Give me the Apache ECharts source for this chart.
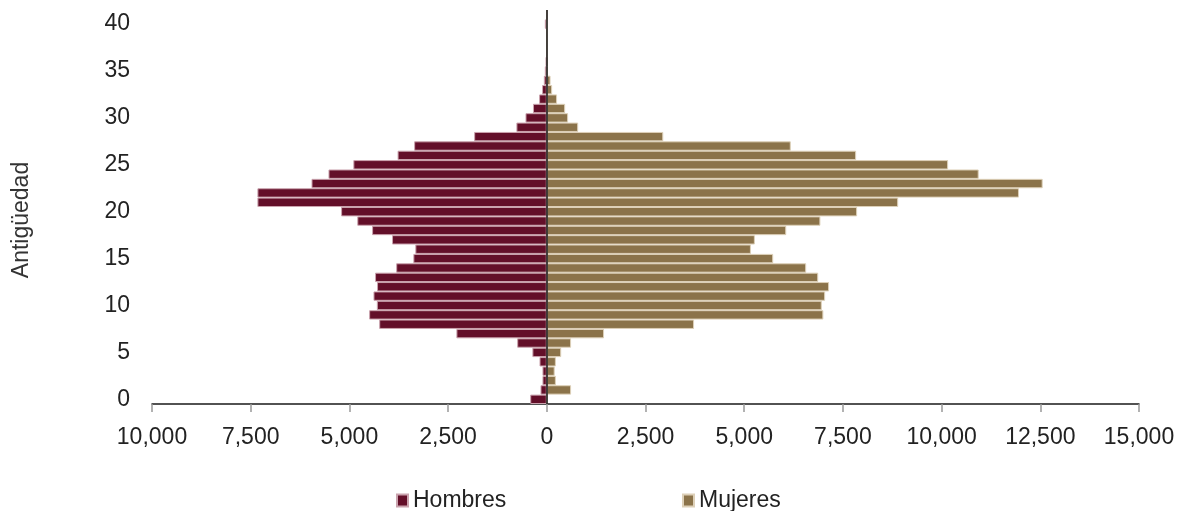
<!DOCTYPE html>
<html>
<head>
<meta charset="utf-8">
<script src="https://cdn.jsdelivr.net/npm/echarts@6/dist/echarts.min.js"></script>
<style>
  html, body { margin: 0; padding: 0; background: #fff; }
  #chart { width: 1184px; height: 511px; }
</style>
</head>
<body>
<div id="chart"></div>
<script>
// Antigüedad categories 0..41 (41 is an empty slot at the top of the axis)
const categories = [];
for (let i = 0; i <= 41; i++) categories.push(String(i));

// Hombres (count, drawn to the left)
const hombres = [420, 160, 110, 110, 185, 365, 750, 2290, 4245, 4500,
                 4305, 4390, 4300, 4350, 3815, 3380, 3330, 3920, 4425, 4800,
                 5210, 7330, 7330, 5960, 5530, 4900, 3780, 3360, 1840, 770,
                 540, 350, 195, 120, 75, 50, 30, 10, 10, 10,
                 50, 0];
// Mujeres (count, drawn to the right)
const mujeres = [0, 615, 230, 200, 230, 365, 615, 1450, 3730, 7005,
                 6965, 7050, 7150, 6875, 6570, 5735, 5170, 5270, 6065, 6930,
                 7860, 8900, 11960, 12560, 10940, 10165, 7835, 6180, 2950, 795,
                 540, 465, 260, 135, 95, 20, 30, 0, 0, 0,
                 0, 0];

const xTicks = { min: -10000, max: 15000, interval: 2500 };
const yTitle = 'Antigüedad';
const seriesNames = ['Hombres', 'Mujeres'];

const FONT = '"Liberation Sans", Arial, Helvetica, sans-serif';
const fmt = v => Math.abs(v).toLocaleString('en-US');

const chart = echarts.init(document.getElementById('chart'), null, { renderer: 'canvas' });
chart.setOption({
  animation: false,
  backgroundColor: '#ffffff',
  textStyle: { fontFamily: FONT },
  grid: { left: 152, right: 45, top: 10, bottom: 107, containLabel: false },
  legend: [
    {
      data: [seriesNames[0]], left: 391, top: 484,
      itemWidth: 11, itemHeight: 12, itemGap: 6,
      icon: 'rect',
      textStyle: { fontFamily: FONT, fontSize: 23, color: '#222' }
    },
    {
      data: [seriesNames[1]], left: 677, top: 484,
      itemWidth: 11, itemHeight: 12, itemGap: 6,
      icon: 'rect',
      textStyle: { fontFamily: FONT, fontSize: 23, color: '#222' }
    }
  ],
  graphic: [
    {
      type: 'text',
      x: 22, y: 220,
      rotation: Math.PI / 2,
      style: {
        text: yTitle,
        fontFamily: FONT, fontSize: 23, fill: '#333',
        align: 'center', verticalAlign: 'middle'
      }
    }
  ],
  xAxis: {
    type: 'value',
    min: xTicks.min, max: xTicks.max, interval: xTicks.interval,
    axisLine: { show: true, onZero: false, lineStyle: { color: '#1a1a1a', width: 1.5 } },
    axisTick: { show: true, length: 8, lineStyle: { color: '#999', width: 1.5 } },
    axisLabel: { formatter: fmt, fontSize: 23, color: '#222', margin: 22, fontFamily: FONT },
    splitLine: { show: false }
  },
  yAxis: {
    type: 'category',
    data: categories,
    axisLine: { show: false },
    axisTick: { show: false },
    axisLabel: { interval: 4, fontSize: 23, color: '#222', margin: 22, fontFamily: FONT },
    splitLine: { show: false }
  },
  series: [
    {
      name: seriesNames[0],
      type: 'bar',
      data: hombres.map(v => -v),
      barGap: '-100%',
      barCategoryGap: '0%',
      itemStyle: { color: '#630f29', borderColor: '#caa3ae', borderWidth: 1 },
      markLine: {
        silent: true,
        symbol: ['none', 'none'],
        label: { show: false },
        lineStyle: { color: '#111', width: 1.5, type: 'solid' },
        data: [{ xAxis: 0 }],
        z: 10
      }
    },
    {
      name: seriesNames[1],
      type: 'bar',
      data: mujeres,
      barGap: '-100%',
      barCategoryGap: '0%',
      itemStyle: { color: '#8b734a', borderColor: '#ddd0b8', borderWidth: 1 }
    }
  ]
});
</script>
</body>
</html>
